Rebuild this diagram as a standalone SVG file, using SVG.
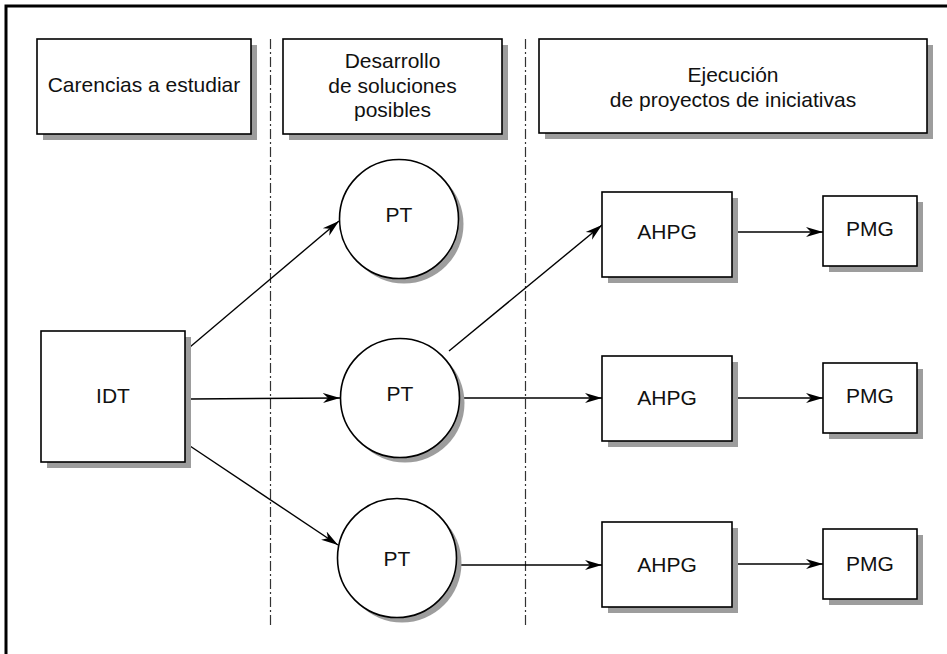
<svg xmlns="http://www.w3.org/2000/svg" width="947" height="654" viewBox="0 0 947 654">
  <style>
    .box { fill: #ffffff; stroke: #000000; stroke-width: 1.6; }
    .shadow { fill: #9d9d9d; stroke: none; }
    .lbl { font-family: "Liberation Sans", Arial, Helvetica, sans-serif; font-size: 21px; fill: #111111; text-anchor: middle; }
    .edge { fill: none; stroke: #000000; stroke-width: 1.4; marker-end: url(#arrow); }
    .divider { fill: none; stroke: #333333; stroke-width: 1.2; stroke-dasharray: 10 3 2 3; }
  </style>
  <defs>
    <marker id="arrow" markerUnits="userSpaceOnUse" markerWidth="18" markerHeight="12" viewBox="0 0 18 12" refX="17" refY="6" orient="auto">
      <path d="M0,1 L17,6 L0,11 L5,6 Z" fill="#000000"/>
    </marker>
  </defs>

  <rect width="947" height="654" fill="#ffffff"/>
  <!-- outer frame, runs past the right and bottom edges -->
  <path d="M6,660 L6,6 L960,6" fill="none" stroke="#000000" stroke-width="3"/>

  <!-- column dividers -->
  <g id="dividers">
    <line class="divider" x1="270.5" y1="39" x2="270.5" y2="628"/>
    <line class="divider" x1="525.5" y1="39" x2="525.5" y2="628"/>
  </g>

  <!-- column headers -->
  <g id="header-carencias">
    <rect class="shadow" x="43" y="45" width="214" height="95"/>
    <rect class="box" x="37" y="39" width="214" height="95"/>
    <text class="lbl" x="144" y="92">Carencias a estudiar</text>
  </g>
  <g id="header-desarrollo">
    <rect class="shadow" x="289" y="45" width="219" height="95"/>
    <rect class="box" x="283" y="39" width="219" height="95"/>
    <text class="lbl" x="392.5" y="68">Desarrollo</text>
    <text class="lbl" x="392.5" y="93">de soluciones</text>
    <text class="lbl" x="392.5" y="117">posibles</text>
  </g>
  <g id="header-ejecucion">
    <rect class="shadow" x="545" y="45" width="388" height="94"/>
    <rect class="box" x="539" y="39" width="388" height="94"/>
    <text class="lbl" x="733" y="82">Ejecución</text>
    <text class="lbl" x="733" y="107">de proyectos de iniciativas</text>
  </g>

  <!-- connectors -->
  <g id="connectors">
    <line class="edge" x1="190" y1="347" x2="339" y2="221"/>
    <line class="edge" x1="190" y1="399" x2="340" y2="398"/>
    <line class="edge" x1="190" y1="446" x2="338" y2="545"/>
    <line class="edge" x1="449" y1="351" x2="602" y2="225"/>
    <line class="edge" x1="460" y1="398" x2="602" y2="398"/>
    <line class="edge" x1="457" y1="565" x2="602" y2="565"/>
    <line class="edge" x1="734" y1="232" x2="823" y2="232"/>
    <line class="edge" x1="734" y1="398" x2="823" y2="398"/>
    <line class="edge" x1="734" y1="564" x2="823" y2="564"/>
  </g>

  <!-- source -->
  <g id="idt">
    <rect class="shadow" x="47" y="337" width="144" height="131"/>
    <rect class="box" x="41" y="331" width="144" height="131"/>
    <text class="lbl" x="113" y="403">IDT</text>
  </g>

  <!-- PT nodes -->
  <g id="pt-1">
    <circle class="shadow" cx="404" cy="224" r="59.5"/>
    <circle class="box" cx="399" cy="219" r="59.5"/>
    <text class="lbl" x="399" y="222">PT</text>
  </g>
  <g id="pt-2">
    <circle class="shadow" cx="405" cy="403" r="59.5"/>
    <circle class="box" cx="400" cy="398" r="59.5"/>
    <text class="lbl" x="400" y="401">PT</text>
  </g>
  <g id="pt-3">
    <circle class="shadow" cx="402" cy="563" r="59.5"/>
    <circle class="box" cx="397" cy="558" r="59.5"/>
    <text class="lbl" x="397" y="566">PT</text>
  </g>

  <!-- AHPG nodes -->
  <g id="ahpg-1">
    <rect class="shadow" x="608" y="198" width="130" height="85"/>
    <rect class="box" x="602" y="192" width="130" height="85"/>
    <text class="lbl" x="667" y="239">AHPG</text>
  </g>
  <g id="ahpg-2">
    <rect class="shadow" x="608" y="362" width="130" height="85"/>
    <rect class="box" x="602" y="356" width="130" height="85"/>
    <text class="lbl" x="667" y="405">AHPG</text>
  </g>
  <g id="ahpg-3">
    <rect class="shadow" x="608" y="528" width="130" height="85"/>
    <rect class="box" x="602" y="522" width="130" height="85"/>
    <text class="lbl" x="667" y="572">AHPG</text>
  </g>

  <!-- PMG nodes -->
  <g id="pmg-1">
    <rect class="shadow" x="829" y="202" width="94" height="70"/>
    <rect class="box" x="823" y="196" width="94" height="70"/>
    <text class="lbl" x="870" y="236">PMG</text>
  </g>
  <g id="pmg-2">
    <rect class="shadow" x="829" y="369" width="94" height="70"/>
    <rect class="box" x="823" y="363" width="94" height="70"/>
    <text class="lbl" x="870" y="403">PMG</text>
  </g>
  <g id="pmg-3">
    <rect class="shadow" x="829" y="535" width="94" height="70"/>
    <rect class="box" x="823" y="529" width="94" height="70"/>
    <text class="lbl" x="870" y="571">PMG</text>
  </g>
</svg>
